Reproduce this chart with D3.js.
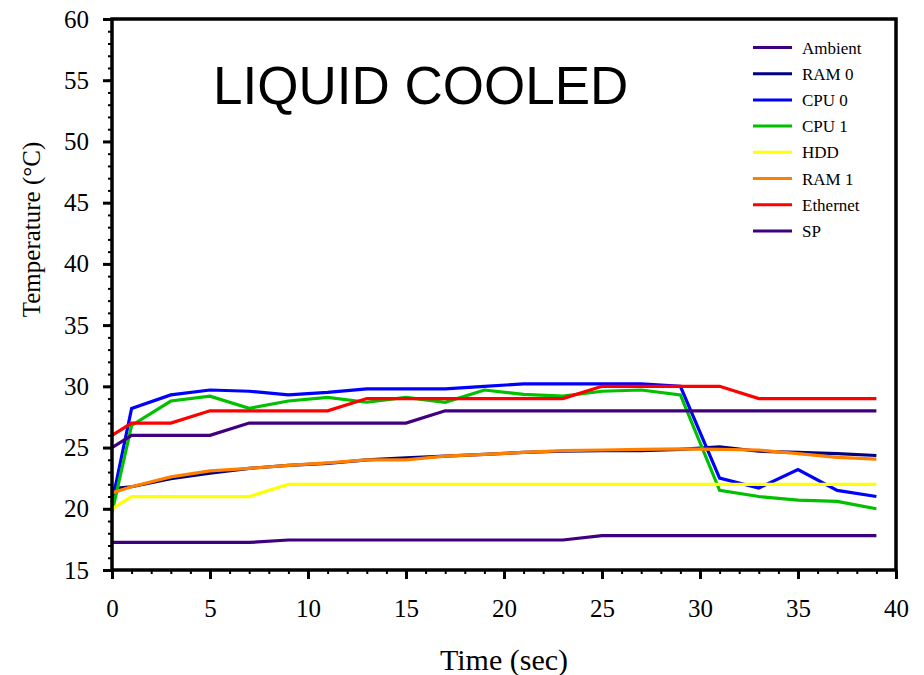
<!DOCTYPE html>
<html>
<head>
<meta charset="utf-8">
<script src="https://d3js.org/d3.v7.min.js"></script>
<style>
  body { margin: 0; background: #fff; }
  svg { display: block; }
</style>
</head>
<body>
<svg></svg>
<script>

    var width = 924;
    var height = 675;
    var margin = ({top: 19, right: 26, bottom: 105, left: 112});

    // time in seconds
    var time = [0, 1, 3, 5, 7, 9, 11, 13, 15, 17, 19, 21, 23, 25, 27, 29, 31, 33, 35, 37, 39];

    var ambient  = [17.25, 17.25, 17.25, 17.25, 17.25, 17.45, 17.45, 17.45, 17.45, 17.45, 17.45, 17.45, 17.45, 17.8, 17.8, 17.8, 17.8, 17.8, 17.8, 17.8, 17.8];
    var ram0     = [21.65, 21.8, 22.45, 22.9, 23.3, 23.55, 23.7, 24.0, 24.15, 24.3, 24.45, 24.6, 24.7, 24.75, 24.75, 24.85, 25.05, 24.7, 24.6, 24.5, 24.35];
    var cpu0     = [20.5, 28.2, 29.3, 29.7, 29.6, 29.3, 29.5, 29.8, 29.8, 29.8, 30.0, 30.2, 30.2, 30.2, 30.2, 30.0, 22.5, 21.7, 23.2, 21.5, 21.0];
    var cpu1     = [19.7, 26.8, 28.8, 29.2, 28.2, 28.8, 29.1, 28.7, 29.1, 28.7, 29.7, 29.35, 29.2, 29.6, 29.7, 29.3, 21.5, 21.0, 20.7, 20.6, 20.0];
    var hdd      = [20, 21, 21, 21, 21, 22, 22, 22, 22, 22, 22, 22, 22, 22, 22, 22, 22, 22, 22, 22, 22];
    var ram1     = [21.3, 21.8, 22.6, 23.1, 23.3, 23.55, 23.75, 24.0, 24.0, 24.3, 24.45, 24.6, 24.75, 24.8, 24.85, 24.9, 24.85, 24.8, 24.5, 24.2, 24.05];
    var ethernet = [26, 27, 27, 28, 28, 28, 28, 29, 29, 29, 29, 29, 29, 30, 30, 30, 30, 29, 29, 29, 29];
    var sp       = [25, 26, 26, 26, 27, 27, 27, 27, 27, 28, 28, 28, 28, 28, 28, 28, 28, 28, 28, 28, 28];

    var seriesNames  = ["Ambient", "RAM 0", "CPU 0", "CPU 1", "HDD", "RAM 1", "Ethernet", "SP"];
    var seriesValues = [ambient, ram0, cpu0, cpu1, hdd, ram1, ethernet, sp];
    var seriesColors = ["#3f0080", "#000080", "#0000ff", "#00c000", "#ffff00", "#ff8000", "#ff0000", "#3f0080"];

    var xTicks = [0, 5, 10, 15, 20, 25, 30, 35, 40];
    var yTicks = [15, 20, 25, 30, 35, 40, 45, 50, 55, 60];

    var series = seriesNames.map((name, i) => ({
        name: name,
        color: seriesColors[i],
        values: time.map((t, j) => ({t: t, v: seriesValues[i][j]}))
    }));

    var x = d3.scaleLinear()
        .domain([0, 40])
        .range([margin.left, width - margin.right - 2]);

    var y = d3.scaleLinear()
        .domain([15, 60])
        .range([height - margin.bottom, margin.top]);

    var svg = d3.select("svg")
        .attr("width", width)
        .attr("height", height)
        .attr("viewBox", [0, 0, width, height]);

    var serif = "'Liberation Serif', 'Times New Roman', serif";

    // minor ticks
    svg.append("g")
        .attr("transform", `translate(0,${y(15)})`)
        .call(d3.axisBottom(x).tickValues(d3.range(0, 41, 1)).tickSize(4).tickFormat(""))
        .call(g => g.select(".domain").remove())
        .call(g => g.selectAll("line").attr("stroke-width", 2));

    svg.append("g")
        .attr("transform", `translate(${x(0)},0)`)
        .call(d3.axisLeft(y).tickValues(d3.range(15, 61, 1)).tickSize(4).tickFormat(""))
        .call(g => g.select(".domain").remove())
        .call(g => g.selectAll("line").attr("stroke-width", 2));

    // major ticks + labels
    svg.append("g")
        .attr("transform", `translate(0,${y(15)})`)
        .call(d3.axisBottom(x).tickValues(xTicks).tickSize(9).tickPadding(20))
        .call(g => g.select(".domain").remove())
        .call(g => g.selectAll("line").attr("stroke-width", 3))
        .call(g => g.selectAll("text")
            .attr("font-family", serif)
            .attr("font-size", 25)
            .attr("fill", "#000"));

    svg.append("g")
        .attr("transform", `translate(${x(0)},0)`)
        .call(d3.axisLeft(y).tickValues(yTicks).tickSize(9).tickPadding(14))
        .call(g => g.select(".domain").remove())
        .call(g => g.selectAll("line").attr("stroke-width", 3))
        .call(g => g.selectAll("text")
            .attr("font-family", serif)
            .attr("font-size", 25)
            .attr("fill", "#000"));

    var line = d3.line()
        .x(d => x(d.t))
        .y(d => y(d.v));

    svg.append("g")
        .selectAll("path")
        .data(series)
        .join("path")
        .attr("d", d => line(d.values))
        .attr("fill", "none")
        .attr("stroke", d => d.color)
        .attr("stroke-width", 3.2)
        .attr("stroke-linejoin", "miter");

    // frame
    svg.append("rect")
        .attr("x", x(0))
        .attr("y", y(60))
        .attr("width", x(40) - x(0))
        .attr("height", y(15) - y(60))
        .attr("fill", "none")
        .attr("stroke", "#000")
        .attr("stroke-width", 3.5);

    // title inside the plot
    svg.append("text")
        .attr("x", 213)
        .attr("y", 104)
        .attr("font-family", "'Liberation Sans', Arial, sans-serif")
        .attr("font-size", 53)
        .attr("fill", "#000")
        .text("LIQUID COOLED");

    // legend
    var legend = svg.append("g")
        .selectAll("g")
        .data(series)
        .join("g")
        .attr("transform", (d, i) => `translate(753,${47.5 + i * 26.2})`);

    legend.append("line")
        .attr("x1", 0)
        .attr("x2", 39)
        .attr("stroke", d => d.color)
        .attr("stroke-width", 3);

    legend.append("text")
        .attr("x", 49)
        .attr("y", 6)
        .attr("font-family", serif)
        .attr("font-size", 17)
        .attr("fill", "#000")
        .text(d => d.name);

    // axis titles
    svg.append("text")
        .attr("x", (x(0) + x(40)) / 2)
        .attr("y", 670)
        .attr("text-anchor", "middle")
        .attr("font-family", serif)
        .attr("font-size", 30)
        .attr("fill", "#000")
        .text("Time (sec)");

    svg.append("text")
        .attr("transform", `translate(40,${(y(15) + y(60)) / 2 - 65}) rotate(-90)`)
        .attr("text-anchor", "middle")
        .attr("font-family", serif)
        .attr("font-size", 25)
        .attr("fill", "#000")
        .text("Temperature (°C)");

</script>
</body>
</html>
